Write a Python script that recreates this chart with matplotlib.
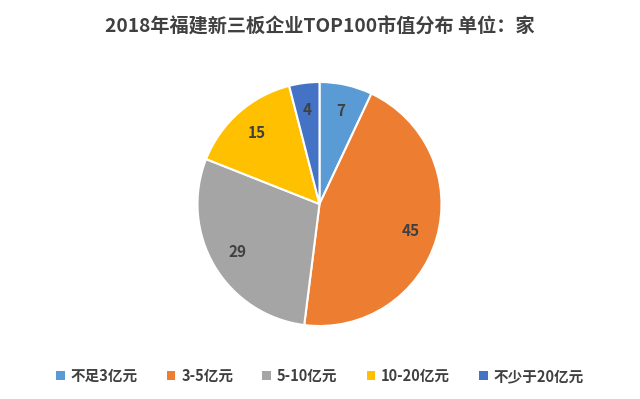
import matplotlib
matplotlib.use("Agg")
import matplotlib.pyplot as plt
from matplotlib.patches import Patch

plt.rcParams['font.family'] = ['Noto Sans CJK SC', 'DejaVu Sans']

categories = ["不足3亿元", "3-5亿元", "5-10亿元", "10-20亿元", "不少于20亿元"]
values = [7, 45, 29, 15, 4]
colors = ["#5B9BD5", "#ED7D31", "#A5A5A5", "#FFC000", "#4472C4"]
title = "2018年福建新三板企业TOP100市值分布 单位：家"

fig = plt.figure(figsize=(6.4, 3.99), dpi=100)
fig.patch.set_facecolor("white")
W, H = 640, 399
cx, cy, r = 319.5, 399 - 204, 122
ax = fig.add_axes([(cx - r) / W, (cy - r) / H, 2 * r / W, 2 * r / H])
wedges, texts = ax.pie(values, colors=colors, startangle=90, counterclock=False,
                       labels=[str(v) for v in values], labeldistance=0.78,
                       wedgeprops=dict(edgecolor="white", linewidth=1.5),
                       textprops=dict(fontsize=11, fontweight="bold", color="#404040"))
for t in texts:
    t.set_horizontalalignment("center")
    t.set_verticalalignment("center")
ax.set_xlim(-1, 1)
ax.set_ylim(-1, 1)
ax.set_aspect("equal")
ax.axis("off")

fig.text(0.5, 1 - 27 / H, title, ha="center", va="center", fontsize=13.8,
         fontweight="bold", color="#404040")

handles = [Patch(facecolor=c, edgecolor="none") for c in colors]
fig.legend(handles, categories, loc="center", bbox_to_anchor=(0.5, 1 - 376 / H),
           ncol=5, frameon=False, handlelength=0.6, handleheight=0.6,
           handletextpad=0.4, columnspacing=2.0,
           prop=dict(size=10.5, weight="bold"), labelcolor="#404040")

fig.savefig("out.png", dpi=100, facecolor="white")
